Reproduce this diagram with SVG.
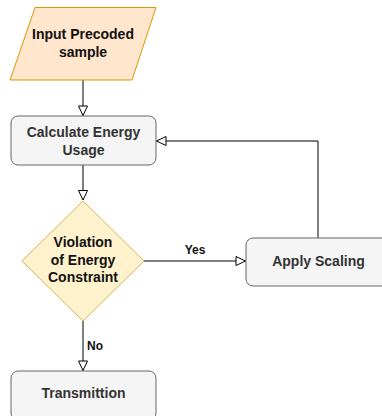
<svg xmlns="http://www.w3.org/2000/svg" width="382" height="416" viewBox="0 0 382 416">
  <style>
    .lbl { font-family: "Liberation Sans", Arial, sans-serif; font-weight: bold; font-size: 14px; text-anchor: middle; }
    .dark { fill: #333333; }
    .ink { fill: #111111; }
    .edge-lbl { font-family: "Liberation Sans", Arial, sans-serif; font-weight: bold; font-size: 12px; fill: #111111; }
    .proc { fill: #f5f5f5; stroke: #666666; stroke-width: 1; }
    .wire { fill: none; stroke: #000000; stroke-width: 1; marker-end: url(#open-block); }
  </style>
  <defs>
    <marker id="open-block" markerUnits="userSpaceOnUse" markerWidth="12" markerHeight="12" viewBox="0 0 12 12" refX="10.5" refY="6" orient="auto">
      <path d="M1,1.5 L10.5,6 L1,10.5 Z" fill="#ffffff" stroke="#000000" stroke-width="1"/>
    </marker>
  </defs>

  <rect width="382" height="416" fill="#ffffff"/>

  <g id="connectors">
    <path class="wire" d="M83,80 L83,115.5"/>
    <path class="wire" d="M83,165 L83,200"/>
    <path class="wire" d="M144,261 L245.5,261"/>
    <path class="wire" d="M318,238 L318,141 L156.5,141"/>
    <path class="wire" d="M83,321 L83,370.5"/>
    <text class="edge-lbl" x="195" y="254" text-anchor="middle">Yes</text>
    <text class="edge-lbl" x="87" y="350">No</text>
  </g>

  <g id="input">
    <polygon points="35,7.5 156,7.5 132,80 10,80" fill="#ffe6cc" stroke="#d79b00" stroke-width="1"/>
    <text class="lbl ink" x="83" y="39">Input Precoded</text>
    <text class="lbl ink" x="83" y="57">sample</text>
  </g>

  <g id="calc">
    <rect class="proc" x="11" y="116" width="145" height="49" rx="7"/>
    <text class="lbl dark" x="83.5" y="137">Calculate Energy</text>
    <text class="lbl dark" x="83.5" y="154.5">Usage</text>
  </g>

  <g id="check">
    <polygon points="83,201 144,261 83,321 22,261" fill="#fff2cc" stroke="#d6b656" stroke-width="1"/>
    <text class="lbl ink" x="83" y="247">Violation</text>
    <text class="lbl ink" x="83" y="264.5">of Energy</text>
    <text class="lbl ink" x="83" y="282">Constraint</text>
  </g>

  <g id="scale">
    <rect class="proc" x="246" y="238" width="145" height="48" rx="7"/>
    <text class="lbl dark" x="318.5" y="266">Apply Scaling</text>
  </g>

  <g id="transmit">
    <rect class="proc" x="11" y="371" width="145" height="49" rx="7"/>
    <text class="lbl dark" x="83.5" y="398">Transmittion</text>
  </g>
</svg>
